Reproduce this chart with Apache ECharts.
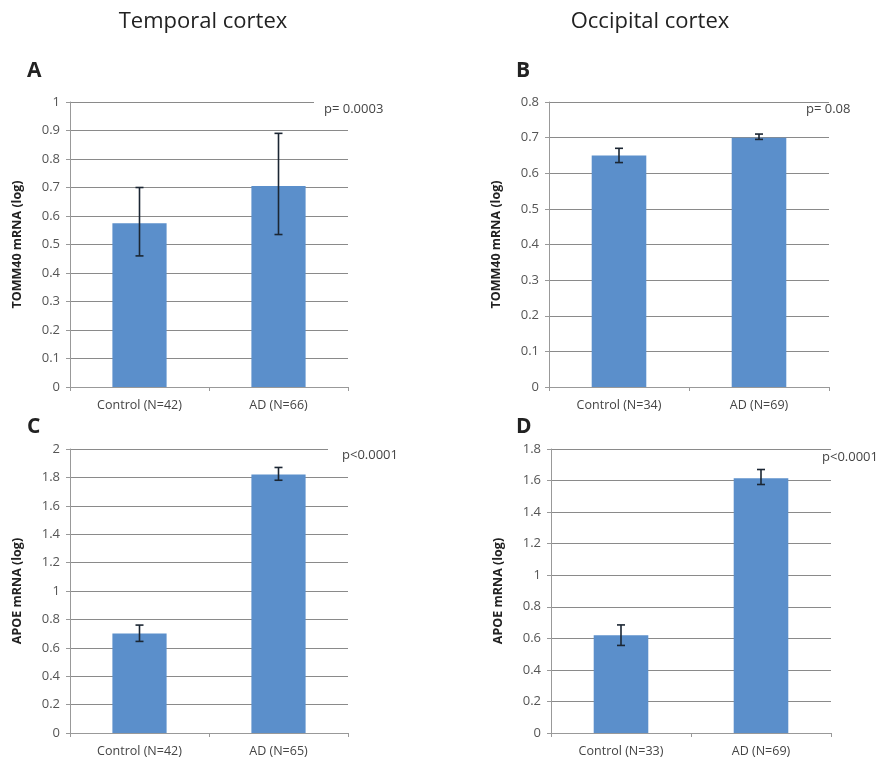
<!DOCTYPE html>
<html>
<head>
<meta charset="utf-8">
<script src="https://cdn.jsdelivr.net/npm/echarts@6/dist/echarts.min.js"></script>
<style>
  html, body { margin: 0; padding: 0; background: #fff; }
  #showChart { width: 886px; height: 766px; }
</style>
</head>
<body>
<div id="showChart"></div>
<script>
// data
var catsA = ['Control (N=42)', 'AD (N=66)'];
var meanA = [0.575, 0.705];
var lowA  = [0.46, 0.535];
var highA = [0.70, 0.89];

var catsB = ['Control (N=34)', 'AD (N=69)'];
var meanB = [0.65, 0.70];
var lowB  = [0.63, 0.695];
var highB = [0.67, 0.71];

var catsC = ['Control (N=42)', 'AD (N=65)'];
var meanC = [0.70, 1.82];
var lowC  = [0.645, 1.78];
var highC = [0.76, 1.87];

var catsD = ['Control (N=33)', 'AD (N=69)'];
var meanD = [0.62, 1.615];
var lowD  = [0.555, 1.575];
var highD = [0.685, 1.67];

var font = '"Open Sans", sans-serif';
var barColor = '#5b8fcb';

var myChart = echarts.init(document.getElementById('showChart'));

// one panel = grid + axes + bar + error bar
var panels = [
  { cats: catsA, mean: meanA, low: lowA, high: highA, max: 1,   step: 0.1, name: 'TOMM40 mRNA (log)', grid: { left: 70,  top: 102, width: 278, height: 285 } },
  { cats: catsB, mean: meanB, low: lowB, high: highB, max: 0.8, step: 0.1, name: 'TOMM40 mRNA (log)', grid: { left: 549, top: 102, width: 280, height: 285 } },
  { cats: catsC, mean: meanC, low: lowC, high: highC, max: 2,   step: 0.2, name: 'APOE mRNA (log)',   grid: { left: 70,  top: 449, width: 278, height: 284 } },
  { cats: catsD, mean: meanD, low: lowD, high: highD, max: 1.8, step: 0.2, name: 'APOE mRNA (log)',   grid: { left: 551, top: 449, width: 280, height: 284 } }
];

var grids = [], xAxes = [], yAxes = [], series = [];

panels.forEach(function (p, i) {
  grids.push(p.grid);
  xAxes.push({
    type: 'category', gridIndex: i, data: p.cats,
    axisLine: { lineStyle: { color: '#999' } },
    axisTick: { show: true, length: 4, lineStyle: { color: '#999' } },
    axisLabel: { color: '#444', fontSize: 12.5, fontFamily: font, margin: 12 }
  });
  yAxes.push({
    type: 'value', gridIndex: i, min: 0, max: p.max, interval: p.step,
    name: p.name, nameLocation: 'middle', nameGap: 46,
    nameTextStyle: { color: '#222', fontSize: 12.5, fontWeight: 'bold', fontFamily: font },
    axisLine: { show: true, lineStyle: { color: '#999' } },
    axisTick: { show: true, length: 4, lineStyle: { color: '#999' } },
    axisLabel: { color: '#555', fontSize: 13, fontFamily: font, margin: 10 },
    splitLine: { lineStyle: { color: '#8a8a8a', width: 1 } }
  });
  series.push({
    type: 'bar', xAxisIndex: i, yAxisIndex: i,
    data: p.mean, barWidth: '39%',
    itemStyle: { color: barColor }, z: 2
  });
  var errData = p.cats.map(function (c, k) { return [k, p.low[k], p.high[k]]; });
  series.push({
    type: 'custom', xAxisIndex: i, yAxisIndex: i, z: 5,
    data: errData,
    renderItem: function (params, api) {
      var x = api.value(0);
      var lo = api.coord([x, api.value(1)]);
      var hi = api.coord([x, api.value(2)]);
      var w = 4;
      var st = { stroke: '#1b2633', lineWidth: 1.6 };
      return {
        type: 'group',
        children: [
          { type: 'line', shape: { x1: hi[0], y1: hi[1], x2: lo[0], y2: lo[1] }, style: st },
          { type: 'line', shape: { x1: hi[0] - w, y1: hi[1], x2: hi[0] + w, y2: hi[1] }, style: st },
          { type: 'line', shape: { x1: lo[0] - w, y1: lo[1], x2: lo[0] + w, y2: lo[1] }, style: st }
        ]
      };
    }
  });
});

function txt(x, y, s, size, weight, extra) {
  var style = { text: s, fill: '#222', font: weight + ' ' + size + 'px ' + font };
  for (var k in extra) style[k] = extra[k];
  return { type: 'text', x: x, y: y, z: 10, style: style };
}

var option = {
  animation: false,
  backgroundColor: '#fff',
  grid: grids,
  xAxis: xAxes,
  yAxis: yAxes,
  series: series,
  graphic: [
    txt(203, 22, 'Temporal cortex', 22, 'normal', { align: 'center', verticalAlign: 'middle' }),
    txt(650, 22, 'Occipital cortex', 22, 'normal', { align: 'center', verticalAlign: 'middle' }),
    txt(27, 71, 'A', 21, 'bold', { verticalAlign: 'middle' }),
    txt(516, 71, 'B', 21, 'bold', { verticalAlign: 'middle' }),
    txt(27, 427, 'C', 21, 'bold', { verticalAlign: 'middle' }),
    txt(516, 427, 'D', 21, 'bold', { verticalAlign: 'middle' }),
    // p-values (A and C sit in a white box that hides the top gridline end)
    txt(314, 109, 'p= 0.0003', 13, 'normal', { fill: '#444', verticalAlign: 'middle', backgroundColor: '#fff', padding: [8, 4, 4, 10] }),
    txt(806, 109, 'p= 0.08', 13, 'normal', { fill: '#444', verticalAlign: 'middle' }),
    txt(328, 455, 'p<0.0001', 13, 'normal', { fill: '#444', verticalAlign: 'middle', backgroundColor: '#fff', padding: [8, 4, 4, 14] }),
    txt(822, 457, 'p<0.0001', 13, 'normal', { fill: '#444', verticalAlign: 'middle' })
  ]
};

myChart.setOption(option);
</script>
</body>
</html>
